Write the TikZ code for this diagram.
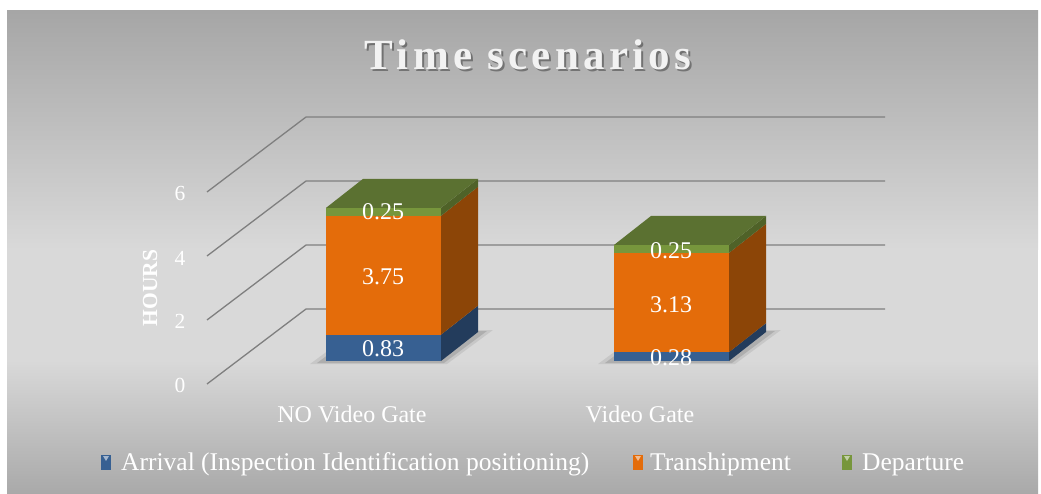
\documentclass[tikz,border=0pt]{standalone}
\usepackage{fontspec}
\setmainfont{Liberation Serif}
\newfontfamily\titlefont[LetterSpace=10]{Liberation Serif}

\definecolor{bgTop}{HTML}{A6A6A6}
\definecolor{bgMid}{HTML}{D9D9D9}
\definecolor{bgBot}{HTML}{A9A9A9}
\definecolor{gridc}{HTML}{7F7F7F}
\definecolor{arrF}{HTML}{376092}
\definecolor{arrS}{HTML}{233C5C}
\definecolor{trsF}{HTML}{E46C0A}
\definecolor{trsS}{HTML}{8C4507}
\definecolor{depF}{HTML}{77963C}
\definecolor{depS}{HTML}{4F6228}
\definecolor{depT}{HTML}{5B7131}

\tikzset{
  gridline/.style={draw=gridc, line width=1.3pt},
  ticklbl/.style={text=white, font=\fontsize{21.5}{23}\selectfont, inner sep=0pt},
  datalbl/.style={text=white, font=\fontsize{24}{26}\selectfont, inner sep=0pt},
  catlbl/.style={text=white, font=\fontsize{24}{26}\selectfont, inner sep=0pt, anchor=base},
  leglbl/.style={text=white, font=\fontsize{25.5}{27}\selectfont, inner sep=0pt, anchor=base west},
  titlelbl/.style={font=\titlefont\bfseries\fontsize{43}{46}\selectfont, inner sep=0pt, anchor=base},
}

% one stacked 3-D column: #1 left edge, #2 arrival, #3 transhipment, #4 departure (hours)
\newcommand\stackcol[4]{%
  \pgfmathsetmacro\xr{#1+115}%
  \pgfmathsetmacro\ya{361-#2*31.7}%
  \pgfmathsetmacro\yb{\ya-#3*31.7}%
  \pgfmathsetmacro\yc{\yb-#4*31.7}%
  % soft floor shadow
  \fill[black, opacity=0.08] (#1-16,364) -- (\xr+6,364) -- (\xr+52,330) -- (#1+30,330) -- cycle;
  \fill[black, opacity=0.12] (#1-9,363) -- (\xr+3,363) -- (\xr+46,331) -- (#1+34,331) -- cycle;
  % front faces
  \fill[arrF] (#1,361) rectangle (\xr,\ya);
  \fill[trsF] (#1,\ya) rectangle (\xr,\yb);
  \fill[depF] (#1,\yb) rectangle (\xr,\yc);
  % side faces
  \fill[arrS] (\xr,361) -- ++(37,-29) -- (\xr+37,\ya-29) -- (\xr,\ya) -- cycle;
  \fill[trsS] (\xr,\ya) -- (\xr+37,\ya-29) -- (\xr+37,\yb-29) -- (\xr,\yb) -- cycle;
  \fill[depS] (\xr,\yb) -- (\xr+37,\yb-29) -- (\xr+37,\yc-29) -- (\xr,\yc) -- cycle;
  % top face
  \fill[depT] (#1,\yc) -- (\xr,\yc) -- (\xr+37,\yc-29) -- (#1+37,\yc-29) -- cycle;
}

\begin{document}
\begin{tikzpicture}[x=1pt, y=-1pt]
  \useasboundingbox (0,0) rectangle (1041,494);
  \fill[white] (0,0) rectangle (1041,494);

  % chart area background
  \shade[top color=bgTop, bottom color=bgMid] (7,11) rectangle (1038,250);
  \fill[bgMid] (7,249.5) rectangle (1038,360.5);
  \shade[top color=bgMid, bottom color=bgBot] (7,360) rectangle (1038,494);

  % title with drop shadow
  \node[titlelbl, text=black, opacity=0.35] (titleshadow) at (530,72) {Time scenarios};
  \node[titlelbl, text=white!95!black] (title) at (528,70) {Time scenarios};

  % floor/wall grid lines
  \foreach \v/\nm in {0/g0, 2/g2, 4/g4, 6/g6} {
    \coordinate (\nm f) at (207,384-\v*32);
    \coordinate (\nm b) at (306,309-\v*32);
    \coordinate (\nm e) at (885,309-\v*32);
    \draw[gridline] (\nm f) -- (\nm b) -- (\nm e);
  }

  % value axis labels
  \node[ticklbl] (t0) at (180,385) {0};
  \node[ticklbl] (t2) at (180,321) {2};
  \node[ticklbl] (t4) at (180,258) {4};
  \node[ticklbl] (t6) at (180,193) {6};
  \node[text=white, font=\bfseries\fontsize{21.5}{23}\selectfont, inner sep=0pt, rotate=90] (ytitle) at (150,288) {HOURS};

  % columns
  \stackcol{326}{0.83}{3.75}{0.25}
  \stackcol{614}{0.28}{3.13}{0.25}

  % data labels
  \node[datalbl] (a1) at (383,349) {0.83};
  \node[datalbl] (b1) at (383,277) {3.75};
  \node[datalbl] (c1) at (383,212) {0.25};
  \node[datalbl] (a2) at (671,358) {0.28};
  \node[datalbl] (b2) at (671,305) {3.13};
  \node[datalbl] (c2) at (671,251) {0.25};

  % category labels
  \node[catlbl] (cat1) at (352,422) {NO Video Gate};
  \node[catlbl] (cat2) at (640,422) {Video Gate};

  % legend
  \foreach \x/\cf/\nm in {101/arrF/k1, 633/trsF/k2, 842/depF/k3} {
    \fill[\cf] (\x,455) rectangle (\x+10,470);
    \fill[\cf!45!white] (\x+2,456) -- (\x+8,456) -- (\x+5,461) -- cycle;
    \coordinate (\nm) at (\x+10,470);
  }
  \node[leglbl] (l1) at (121,470) {Arrival (Inspection Identification positioning)};
  \node[leglbl] (l2) at (650,470) {Transhipment};
  \node[leglbl] (l3) at (862,470) {Departure};
\end{tikzpicture}
\end{document}
